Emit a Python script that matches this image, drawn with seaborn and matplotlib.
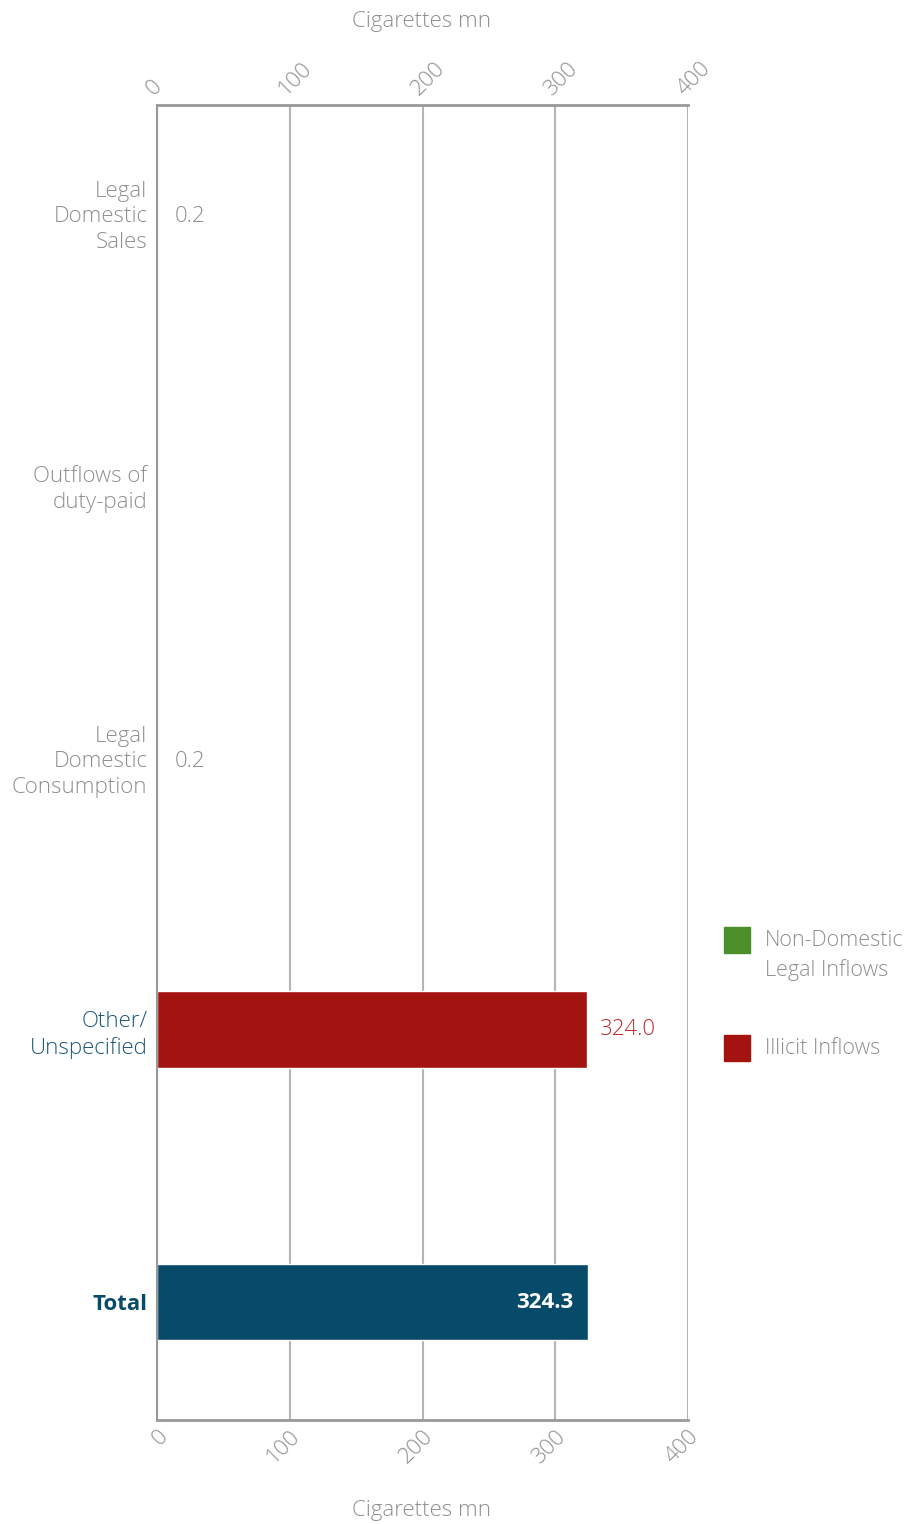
import matplotlib
matplotlib.use("Agg")
import matplotlib.pyplot as plt
import matplotlib.patches as mpatches
import seaborn as sns
import pandas as pd

# ==== DATA ====
categories = ["Legal\nDomestic\nSales", "Outflows of\nduty-paid",
              "Legal\nDomestic\nConsumption", "Other/\nUnspecified", "Total"]
values = [0.2, 0.0, 0.2, 324.0, 324.3]
value_labels = ["0.2", "", "0.2", "324.0", "324.3"]
bar_colors = ["#074a6a", "#074a6a", "#074a6a", "#a31410", "#074a6a"]
legend_names = ["Non-Domestic\nLegal Inflows", "Illicit Inflows"]
legend_colors = ["#4a8f2a", "#a31410"]
x_ticks = [0, 100, 200, 300, 400]

df = pd.DataFrame({"category": categories, "value": values})

# ==== STYLE ====
sns.set_style("white")
plt.rcParams["font.family"] = ["Open Sans", "DejaVu Sans"]
grey = "#8f8f8f"

fig = plt.figure(figsize=(9.15, 15.24), dpi=100)
ax = fig.add_axes([0.1716, 0.0682, 0.5803, 0.8629])

sns.barplot(data=df, x="value", y="category", hue="category",
            palette=bar_colors, width=0.28, orient="h", legend=False,
            saturation=1, ax=ax)

ax.set_xlim(0, 400)
ax.set_ylim(4.433, -0.393)
ax.set_xticks(x_ticks)
ax.grid(axis="x", color="#b5b5b5", linewidth=1.5)
ax.set_axisbelow(True)

for side in ["top", "bottom"]:
    ax.spines[side].set_color("#999999")
    ax.spines[side].set_linewidth(2)
ax.spines["left"].set_color("#999999")
ax.spines["left"].set_linewidth(1.5)
ax.spines["right"].set_visible(False)

# ==== TICKS ====
ax.tick_params(axis="x", length=0, labeltop=True, labelbottom=True,
               colors=grey, labelsize=16, pad=4)
ax.tick_params(axis="y", length=0, pad=7)
for tick in ax.xaxis.get_major_ticks():
    tick.label1.set_rotation(45)
    tick.label1.set_ha("right")
    tick.label1.set_va("top")
    tick.label1.set_rotation_mode("anchor")
    tick.label1.set_fontweight("light")
    tick.label2.set_rotation(45)
    tick.label2.set_ha("left")
    tick.label2.set_va("bottom")
    tick.label2.set_rotation_mode("anchor")
    tick.label2.set_fontweight("light")

ylab_colors = [grey, grey, grey, "#1d5878", "#074a6a"]
for lab, col in zip(ax.get_yticklabels(), ylab_colors):
    lab.set_color(col)
    lab.set_fontsize(16)
    lab.set_multialignment("right")
    lab.set_linespacing(1.3)
    lab.set_fontweight("light")
ax.get_yticklabels()[-1].set_fontweight("bold")

ax.set_ylabel("")
ax.set_xlabel("")
fig.text(0.461, 0.986, "Cigarettes mn", ha="center", va="center",
         fontsize=16, color=grey, fontweight="light")
fig.text(0.461, 0.009, "Cigarettes mn", ha="center", va="center",
         fontsize=16, color=grey, fontweight="light")

# ==== VALUE LABELS ====
for i, (v, txt) in enumerate(zip(values, value_labels)):
    if not txt:
        continue
    if i == len(values) - 1:
        ax.text(v - 11, i, txt, ha="right", va="center", color="white",
                fontsize=16, fontweight="bold")
    elif i == 3:
        ax.text(v + 10, i, txt, ha="left", va="center", color="#c0282d",
                fontsize=16, fontweight="light")
    else:
        ax.text(v + 13, i + 0.015, txt, ha="left", va="center", color=grey,
                fontsize=16, fontweight="light")

# ==== LEGEND (manual placement) ====
W, H = 915, 1524
legend_tops = [927, 1035]
for (name, col, top) in zip(legend_names, legend_colors, legend_tops):
    fig.patches.append(mpatches.Rectangle((724 / W, 1 - (top + 26) / H), 26 / W, 26 / H,
                                          transform=fig.transFigure, color=col))
    fig.text(765 / W, 1 - (top + 3) / H, name, ha="left", va="top", fontsize=15.5,
             color=grey, fontweight="light", linespacing=1.45)

fig.savefig("out.png", dpi=100)
